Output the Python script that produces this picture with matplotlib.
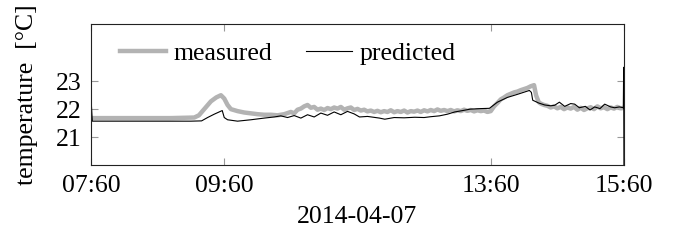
import matplotlib
matplotlib.use("Agg")
import matplotlib.pyplot as plt

plt.rcParams['font.family'] = ['Liberation Serif', 'DejaVu Serif']

# hours of day (2014-04-07)
measured_hours = [8.00, 8.20, 8.40, 8.60, 8.80, 9.00, 9.20, 9.40, 9.55, 9.62, 9.70, 9.80, 9.88, 9.95,
                  10.00, 10.05, 10.10, 10.20, 10.30, 10.40, 10.50, 10.60, 10.70, 10.80,
                  10.90, 10.95, 11.00, 11.05, 11.10, 11.15, 11.20, 11.25, 11.30, 11.35, 11.40, 11.45,
                  11.50, 11.55, 11.60, 11.65, 11.70, 11.75, 11.80, 11.85, 11.90, 11.95, 12.00, 12.05,
                  12.10, 12.15, 12.20, 12.25, 12.30, 12.35, 12.40, 12.45, 12.50, 12.55, 12.60, 12.65,
                  12.70, 12.75, 12.80, 12.85, 12.90, 12.95, 13.00, 13.05, 13.10, 13.15, 13.20, 13.25,
                  13.30, 13.35, 13.40, 13.45, 13.50, 13.55, 13.60, 13.65, 13.70, 13.75, 13.80, 13.85,
                  13.90, 13.95, 14.00, 14.05, 14.10, 14.15, 14.20, 14.25, 14.30, 14.35, 14.40, 14.45,
                  14.50, 14.55, 14.60, 14.65, 14.68, 14.72, 14.75, 14.80, 14.85, 14.90, 14.95, 15.00,
                  15.05, 15.10, 15.15, 15.20, 15.25, 15.30, 15.35, 15.40, 15.45, 15.50, 15.55, 15.60,
                  15.65, 15.70, 15.75, 15.80, 15.85, 15.90, 15.95, 16.00]
measured_temp = [21.68, 21.68, 21.68, 21.68, 21.68, 21.68, 21.68, 21.69, 21.70, 21.78, 22.00, 22.28, 22.42, 22.50,
                 22.38, 22.15, 22.00, 21.93, 21.88, 21.85, 21.82, 21.80, 21.80, 21.78,
                 21.82, 21.86, 21.90, 21.85, 21.98, 22.02, 22.10, 22.15, 22.05, 22.08, 21.98, 22.02,
                 21.97, 22.04, 22.00, 22.06, 22.02, 22.08, 21.98, 22.03, 22.06, 21.97, 22.01, 21.95,
                 21.98, 21.92, 21.95, 21.90, 21.94, 21.89, 21.93, 21.90, 21.96, 21.89, 21.93, 21.90,
                 21.95, 21.88, 21.93, 21.91, 21.95, 21.90, 21.96, 21.92, 21.97, 21.93, 21.99, 21.94,
                 21.97, 21.93, 21.97, 21.92, 21.96, 21.93, 21.98, 21.94, 21.97, 21.92, 21.96, 21.93,
                 21.95, 21.90, 21.93, 22.10, 22.22, 22.35, 22.42, 22.50, 22.55, 22.60, 22.63, 22.68,
                 22.72, 22.76, 22.82, 22.86, 22.50, 22.25, 22.20, 22.15, 22.12, 22.06, 22.10, 22.03,
                 22.08, 22.00, 22.06, 22.02, 22.08, 21.98, 22.05, 21.97, 22.03, 22.07, 22.00, 22.10,
                 22.03, 22.07, 22.00, 22.06, 22.02, 22.08, 22.03, 22.05]

predicted_hours = [8.00, 8.02, 8.50, 9.00, 9.50, 9.66, 9.75, 9.85, 9.97, 10.00, 10.05, 10.20, 10.40,
                   10.60, 10.75, 10.85, 10.95, 11.05, 11.15, 11.25, 11.35, 11.45, 11.55, 11.65, 11.75,
                   11.85, 11.95, 12.03, 12.15, 12.33, 12.41, 12.55, 12.70, 12.86, 13.00, 13.10, 13.23,
                   13.35, 13.46, 13.58, 13.69, 13.85, 13.98, 14.10, 14.25, 14.40, 14.58, 14.61, 14.63,
                   14.72, 14.81, 14.90, 14.96, 15.03, 15.11, 15.20, 15.26, 15.33, 15.42, 15.49, 15.56,
                   15.64, 15.71, 15.80, 15.86, 15.93, 15.99, 15.995, 16.00]
predicted_temp = [22.40, 21.57, 21.57, 21.57, 21.57, 21.58, 21.70, 21.82, 21.95, 21.70, 21.62, 21.57, 21.62,
                  21.68, 21.72, 21.76, 21.70, 21.77, 21.68, 21.80, 21.72, 21.86, 21.78, 21.90, 21.80,
                  21.92, 21.83, 21.72, 21.74, 21.68, 21.64, 21.70, 21.69, 21.71, 21.70, 21.73, 21.76,
                  21.82, 21.90, 21.95, 22.00, 22.02, 22.03, 22.25, 22.42, 22.53, 22.67, 22.60, 22.32,
                  22.22, 22.15, 22.12, 22.14, 22.25, 22.10, 22.20, 22.18, 22.05, 22.10, 21.97, 22.08,
                  22.02, 22.18, 22.08, 22.05, 22.08, 22.05, 23.50, 19.50]

xtick_pos = [8, 10, 14, 16]
xtick_labels = ["07:60", "09:60", "13:60", "15:60"]
ytick_pos = [21, 22, 23]

fig = plt.figure(figsize=(6.77, 2.42), dpi=100)
ax = fig.add_axes([0.1344, 0.3182, 0.7873, 0.5826])

ax.plot(measured_hours, measured_temp, color='#b3b3b3', lw=3.2, label='measured', solid_joinstyle='round')
ax.plot(predicted_hours, predicted_temp, color='black', lw=0.8, label='predicted')

ax.set_xlim(8, 16)
ax.set_ylim(20.0, 25.05)
ax.set_xticks(xtick_pos)
ax.set_xticklabels(xtick_labels)
ax.set_yticks(ytick_pos)
ax.tick_params(direction='in', length=5, width=0.8, color='#999999', labelsize=18.5,
               top=True, right=True, pad=7)
for s in ax.spines.values():
    s.set_linewidth(0.8)
    s.set_color('#222222')

ax.set_ylabel('temperature  [°C]', fontsize=18.5, labelpad=12.5)
ax.set_xlabel('2014-04-07', fontsize=18.5, labelpad=6.5)

leg = ax.legend(loc='upper left', ncol=2, frameon=False, fontsize=18.5,
                handlelength=1.8, handletextpad=0.3, columnspacing=1.3,
                bbox_to_anchor=(0.025, 0.985), borderaxespad=0.2)

fig.savefig('out.png', dpi=100)
